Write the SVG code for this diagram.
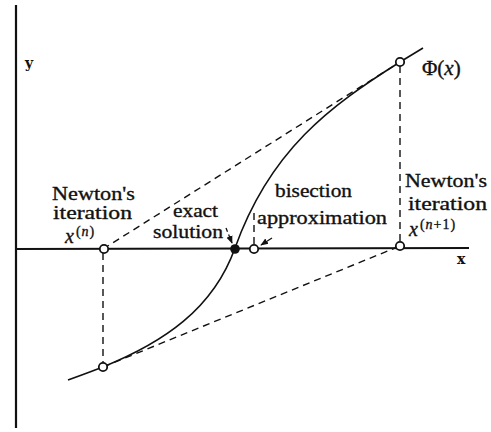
<svg xmlns="http://www.w3.org/2000/svg" width="491" height="432" viewBox="0 0 491 432">
<style>
text{font-family:"Liberation Serif","Times New Roman",serif;font-size:19px;fill:#111;stroke:#111;stroke-width:0.35}
.ax{stroke:#111;stroke-width:2.2;fill:none}
.cv{stroke:#111;stroke-width:1.6;fill:none}
.dash{stroke:#111;stroke-width:1.4;fill:none;stroke-dasharray:7 5}
.open{fill:#fff;stroke:#111;stroke-width:1.8}
.lab{font-family:"DejaVu Serif",serif;font-weight:bold;font-size:14px;stroke-width:0}
.it{font-style:italic}
.var{font-size:20px}
.sup{font-size:14px;letter-spacing:1px}
.phi{font-size:21px}
</style>
<defs>
<marker id="ah" viewBox="0 0 10 10" refX="9" refY="5" markerWidth="6" markerHeight="6" orient="auto">
<path d="M0,1 L10,5 L0,9 Z" fill="#111"/>
</marker>
</defs>
<g id="axes">
<line class="ax" x1="16" y1="5" x2="16" y2="428"/>
<line class="ax" x1="16" y1="249" x2="469" y2="248"/>
<text class="lab" x="25" y="68">y</text>
<text class="lab" x="457" y="264">x</text>
</g>
<g id="curve">
<path class="cv" d="M68,380 C85,374 95,370 103,367 C163,342.6 213,309.6 235,248 C270,150 330,106 400,62 L423,48"/>
<text class="phi" x="422" y="75">Φ(<tspan class="it">x</tspan>)</text>
</g>
<g id="connectors">
<line class="dash" x1="103" y1="249" x2="400" y2="62"/>
<line class="dash" x1="103" y1="367" x2="400" y2="246"/>
<line class="dash" x1="103" y1="253" x2="103" y2="363"/>
<line class="dash" x1="400" y1="66" x2="400" y2="242"/>
<line class="dash" x1="254" y1="213" x2="254" y2="244"/>
<path d="M226,228 L232,243" stroke="#111" stroke-width="1.3" stroke-dasharray="4 3" fill="none" marker-end="url(#ah)"/>
<path d="M272,238 L261,245" stroke="#111" stroke-width="1.3" fill="none" marker-end="url(#ah)"/>
</g>
<g id="newton-n">
<circle class="open" cx="104" cy="249" r="4.2"/>
<text x="52" y="200" textLength="83" lengthAdjust="spacingAndGlyphs">Newton's</text>
<text x="53" y="219" textLength="79" lengthAdjust="spacingAndGlyphs">iteration</text>
<text x="65" y="243"><tspan class="it var">x</tspan><tspan class="sup" dx="2" dy="-7">(<tspan class="it">n</tspan>)</tspan></text>
</g>
<g id="newton-n-point">
<circle class="open" cx="103" cy="367" r="4.2"/>
</g>
<g id="exact">
<circle cx="235" cy="249" r="4.8" fill="#111"/>
<text x="173" y="217" textLength="45" lengthAdjust="spacingAndGlyphs">exact</text>
<text x="153" y="238" textLength="70" lengthAdjust="spacingAndGlyphs">solution</text>
</g>
<g id="bisection">
<circle class="open" cx="254" cy="249" r="4.2"/>
<text x="275" y="197" textLength="77" lengthAdjust="spacingAndGlyphs">bisection</text>
<text x="257" y="224" textLength="130" lengthAdjust="spacingAndGlyphs">approximation</text>
</g>
<g id="newton-n1">
<circle class="open" cx="400" cy="246" r="4.2"/>
<text x="405" y="187" textLength="82" lengthAdjust="spacingAndGlyphs">Newton's</text>
<text x="408" y="210" textLength="79" lengthAdjust="spacingAndGlyphs">iteration</text>
<text x="409" y="236"><tspan class="it var">x</tspan><tspan class="sup" dx="2" dy="-7">(<tspan class="it">n</tspan>+1)</tspan></text>
</g>
<g id="newton-n1-point">
<circle class="open" cx="400" cy="62" r="4.2"/>
</g>
</svg>
